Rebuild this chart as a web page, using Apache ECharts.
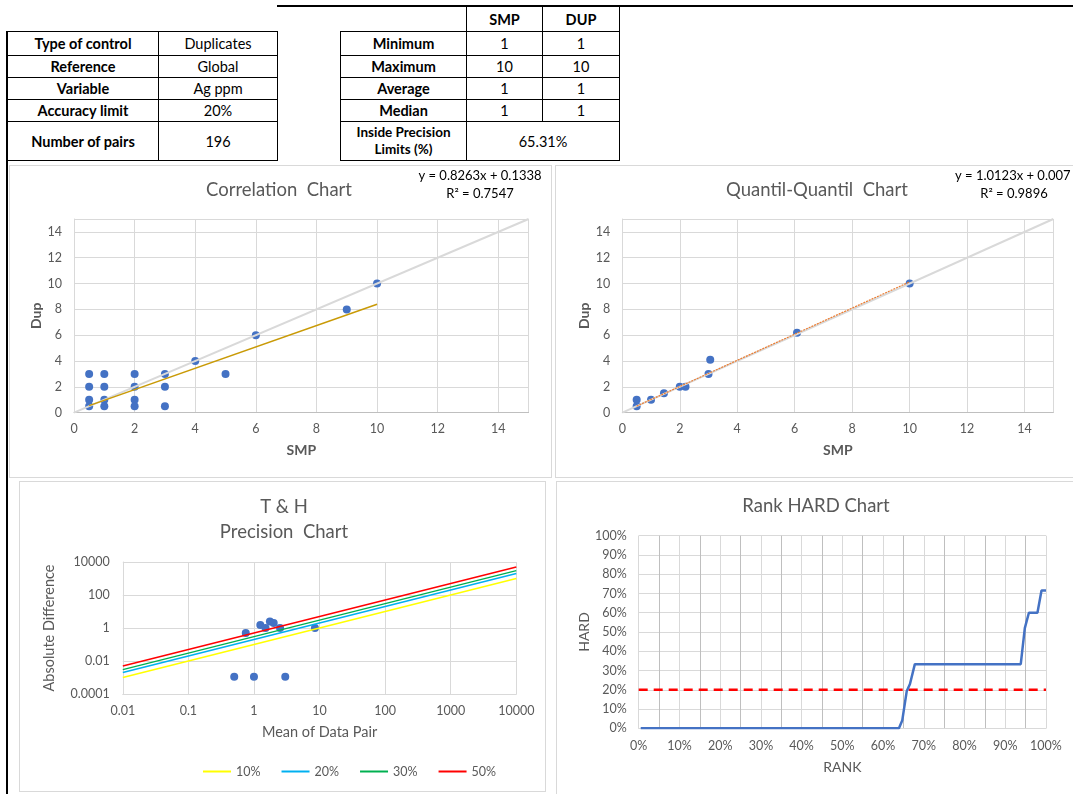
<!DOCTYPE html>
<html><head><meta charset="utf-8">
<script src="https://cdn.jsdelivr.net/npm/echarts@6/dist/echarts.min.js"></script>
<style>
html,body{margin:0;padding:0;background:#fff;width:1073px;height:794px;overflow:hidden;font-family:Lato,'Liberation Sans',sans-serif;}
.abs{position:absolute;}
table{position:absolute;border-collapse:collapse;table-layout:fixed;font-size:14.5px;color:#000;}
td,th{border:1px solid #000;text-align:center;padding:0;line-height:17px;}
th{font-weight:bold;}
td{font-weight:normal;}
td.nb{border-top:none;border-left:none;}
.panel{position:absolute;border:1px solid #d9d9d9;box-sizing:border-box;}
#chart{position:absolute;left:0;top:0;width:1073px;height:794px;}
</style></head>
<body>
<div class="abs" style="left:277px;top:5px;width:796px;height:2px;background:#000"></div>
<div class="abs" style="left:6px;top:31px;width:2px;height:763px;background:#000"></div>
<div class="panel" style="left:9px;top:165px;width:543px;height:313px"></div>
<div class="panel" style="left:555px;top:165px;width:530px;height:313px"></div>
<div class="panel" style="left:19px;top:481px;width:527px;height:311px"></div>
<div class="panel" style="left:556px;top:481px;width:530px;height:330px"></div>
<table id="t1" style="left:7px;top:31px"></table>
<table id="t2" style="left:340px;top:6px"></table>
<div id="chart"></div>
<script>
// ---------- table data ----------
const controlLabels = ['Type of control','Reference','Variable','Accuracy limit','Number of pairs'];
const controlValues = ['Duplicates','Global','Ag ppm','20%','196'];
const statHeaders = ['SMP','DUP'];
const statLabels = ['Minimum','Maximum','Average','Median'];
const smpStats = [1,10,1,1];
const dupStats = [1,10,1,1];
const insideLabel = 'Inside Precision<br>Limits (%)';
const insidePrecision = '65.31%';

// ---------- correlation chart data ----------
const corrSMP = [0.5,0.5,0.5,0.5,1,1,1,1,2,2,2,2,3,3,3,4,5,6,9,10];
const corrDUP = [3,2,1,0.5,3,2,1,0.5,3,2,1,0.5,3,2,0.5,4,3,6,8,10];
const corrTrendX = [0.5,10];
const corrTrendY = [0.55,8.40];
const identityX = [0,15];
const identityY = [0,15];

// ---------- Q-Q chart data ----------
const qqSMP = [0.5,0.5,1,1.45,2,2.2,3,3.06,6.08,10];
const qqDUP = [0.5,1,1,1.5,2,2,3,4.1,6.2,10];
const qqTrendX = [0.5,10];
const qqTrendY = [0.51,10.13];

// ---------- T&H chart data ----------
const thMean = [0.5,1,3,0.75,1.25,1.5,1.75,2,2.5,8.5];
const thDiff = [0.0011,0.0011,0.0011,0.5,1.5,1,2.5,2,1,1];
const limitNames = ['10%','20%','30%','50%'];
const limitX = [0.01,10000];
const limit10 = [0.001,1000];
const limit20 = [0.002,2000];
const limit30 = [0.003,3000];
const limit50 = [0.005,5000];

// ---------- Rank HARD data ----------
const rankPct = [0.5,63.9,64.7,65.8,66.6,67.8,93.8,94.8,95.8,97.9,98.9,100];
const hardPct = [0,0,4,19.2,23,33.3,33.3,52,60,60,71.5,71.5];
const hardLimitX = [0,100];
const hardLimitY = [20,20];

// ---------- build tables ----------
const rowH = [24,22,22,22,39];
let h1 = '<colgroup><col style="width:151px"><col style="width:119px"></colgroup>';
controlLabels.forEach((l,i)=>{ h1 += `<tr style="height:${rowH[i]}px"><th>${l}</th><td>${controlValues[i]}</td></tr>`; });
document.getElementById('t1').innerHTML = h1;
let h2 = '<colgroup><col style="width:126px"><col style="width:76px"><col style="width:77px"></colgroup>';
h2 += `<tr style="height:25px"><td class="nb"></td><th>${statHeaders[0]}</th><th>${statHeaders[1]}</th></tr>`;
statLabels.forEach((l,i)=>{ h2 += `<tr style="height:${rowH[i]}px"><th>${l}</th><td>${smpStats[i]}</td><td>${dupStats[i]}</td></tr>`; });
h2 += `<tr style="height:${rowH[4]}px"><th style="font-size:13.5px">${insideLabel}</th><td colspan="2">${insidePrecision}</td></tr>`;
document.getElementById('t2').innerHTML = h2;

// ---------- chart ----------
const zip = (a,b)=>a.map((v,i)=>[v,b[i]]);
const GRID = '#d9d9d9', TXT = '#595959';
const lbl = {color:TXT,fontSize:12.5,fontFamily:'Lato'};
function scatterAxis(gi, name, isX){
  return {type:'value',gridIndex:gi,min:0,max:15,interval:2,
    name:name,nameLocation:'middle',nameGap:isX?31:30,
    nameTextStyle:{color:TXT,fontWeight:'bold',fontSize:14,fontFamily:'Lato'},
    axisLine:{show:true,lineStyle:{color:isX?'#bfbfbf':GRID,width:1}},
    axisTick:{show:false},
    axisLabel:Object.assign({margin:isX?10:12,showMaxLabel:false},lbl),
    splitLine:{show:true,lineStyle:{color:GRID,width:1}}};
}
const logFmt = v => String(parseFloat(Number(v).toPrecision(4)));
const dot = {color:'#4472C4',opacity:1};
const option = {
  animation:false,
  textStyle:{fontFamily:'Lato'},
  grid:[
    {left:74,top:219,width:454.6,height:193.7,outerBoundsMode:'none'},
    {left:622.3,top:219,width:431,height:193.7,outerBoundsMode:'none'},
    {left:122.8,top:562,width:393.5,height:132,outerBoundsMode:'none'},
    {left:638.7,top:535.7,width:407.3,height:192.6,outerBoundsMode:'none'}
  ],
  xAxis:[
    scatterAxis(0,'SMP',true),
    scatterAxis(1,'SMP',true),
    {type:'log',logBase:10,gridIndex:2,min:0.01,max:10000,
      name:'Mean of Data Pair',nameLocation:'middle',nameGap:31,
      nameTextStyle:{color:TXT,fontSize:14.5,fontFamily:'Lato'},
      axisLine:{show:true,lineStyle:{color:GRID}},axisTick:{show:false},
      axisLabel:Object.assign({margin:10,formatter:logFmt},lbl),
      splitLine:{show:true,lineStyle:{color:GRID}}},
    {type:'value',gridIndex:3,min:0,max:100,interval:5,
      name:'RANK',nameLocation:'middle',nameGap:32,
      nameTextStyle:{color:TXT,fontSize:14,fontFamily:'Lato'},
      axisLine:{show:true,lineStyle:{color:GRID}},axisTick:{show:false},
      axisLabel:Object.assign({margin:11,formatter:v=>(Math.round(v)%10===0?Math.round(v)+'%':'')},lbl),
      splitLine:{show:true,lineStyle:{color:['#d9d9d9','#bfbfbf']}}}
  ],
  yAxis:[
    scatterAxis(0,'Dup',false),
    scatterAxis(1,'Dup',false),
    {type:'log',logBase:100,gridIndex:2,min:0.0001,max:10000,
      name:'Absolute Difference',nameLocation:'middle',nameGap:66,
      nameTextStyle:{color:TXT,fontSize:14.5,fontFamily:'Lato'},
      axisLine:{show:true,lineStyle:{color:GRID}},axisTick:{show:false},
      axisLabel:Object.assign({margin:13,formatter:logFmt},lbl),
      splitLine:{show:true,lineStyle:{color:GRID}}},
    {type:'value',gridIndex:3,min:0,max:100,interval:10,
      name:'HARD',nameLocation:'middle',nameGap:46,
      nameTextStyle:{color:TXT,fontSize:14,fontFamily:'Lato'},
      axisLine:{show:false},axisTick:{show:false},
      axisLabel:Object.assign({margin:12,formatter:v=>v+'%'},lbl),
      splitLine:{show:true,lineStyle:{color:GRID}}}
  ],
  legend:{data:limitNames,left:198,top:760,itemWidth:28,itemHeight:2,itemGap:21,icon:'rect',
    textStyle:{color:TXT,fontSize:12.5,fontFamily:'Lato'},selectedMode:false},
  graphic:[
    {type:'text',x:279,y:190,style:{text:'Correlation  Chart',font:'18.5px Lato',fill:TXT,textAlign:'center',textVerticalAlign:'middle'}},
    {type:'text',x:480,y:176,style:{text:'y = 0.8263x + 0.1338',font:'13px Lato',fill:'#000',textAlign:'center',textVerticalAlign:'middle'}},
    {type:'text',x:480,y:194,style:{text:'R² = 0.7547',font:'13px Lato',fill:'#000',textAlign:'center',textVerticalAlign:'middle'}},
    {type:'text',x:817,y:190,style:{text:'Quantil-Quantil  Chart',font:'18.5px Lato',fill:TXT,textAlign:'center',textVerticalAlign:'middle'}},
    {type:'text',x:955,y:176,style:{text:'y = 1.0123x + 0.007',font:'13px Lato',fill:'#000',textAlign:'left',textVerticalAlign:'middle'}},
    {type:'text',x:1014,y:194,style:{text:'R² = 0.9896',font:'13px Lato',fill:'#000',textAlign:'center',textVerticalAlign:'middle'}},
    {type:'text',x:284,y:507,style:{text:'T & H',font:'18.5px Lato',fill:TXT,textAlign:'center',textVerticalAlign:'middle'}},
    {type:'text',x:284,y:532,style:{text:'Precision  Chart',font:'18.5px Lato',fill:TXT,textAlign:'center',textVerticalAlign:'middle'}},
    {type:'text',x:816,y:506,style:{text:'Rank HARD Chart',font:'18.5px Lato',fill:TXT,textAlign:'center',textVerticalAlign:'middle'}}
  ],
  series:[
    {type:'line',xAxisIndex:0,yAxisIndex:0,data:zip(identityX,identityY),symbol:'none',silent:true,lineStyle:{color:GRID,width:2}},
    {type:'scatter',xAxisIndex:0,yAxisIndex:0,data:zip(corrSMP,corrDUP),symbolSize:8,itemStyle:dot},
    {type:'line',xAxisIndex:0,yAxisIndex:0,data:zip(corrTrendX,corrTrendY),symbol:'none',lineStyle:{color:'#C99A06',width:1.5}},
    {type:'line',xAxisIndex:1,yAxisIndex:1,data:zip(identityX,identityY),symbol:'none',silent:true,lineStyle:{color:GRID,width:2}},
    {type:'scatter',xAxisIndex:1,yAxisIndex:1,data:zip(qqSMP,qqDUP),symbolSize:8,itemStyle:dot},
    {type:'line',xAxisIndex:1,yAxisIndex:1,data:zip(qqTrendX,qqTrendY),symbol:'none',lineStyle:{color:'#ED7D31',width:1.2,type:[2,1]}},
    {name:'10%',type:'line',xAxisIndex:2,yAxisIndex:2,data:zip(limitX,limit10),symbol:'none',color:'#FFFF00',lineStyle:{color:'#FFFF00',width:1.5}},
    {name:'20%',type:'line',xAxisIndex:2,yAxisIndex:2,data:zip(limitX,limit20),symbol:'none',color:'#00B0F0',lineStyle:{color:'#00B0F0',width:1.5}},
    {name:'30%',type:'line',xAxisIndex:2,yAxisIndex:2,data:zip(limitX,limit30),symbol:'none',color:'#00B050',lineStyle:{color:'#00B050',width:1.5}},
    {name:'50%',type:'line',xAxisIndex:2,yAxisIndex:2,data:zip(limitX,limit50),symbol:'none',color:'#FF0000',lineStyle:{color:'#FF0000',width:1.5}},
    {name:'pairs',type:'scatter',xAxisIndex:2,yAxisIndex:2,data:zip(thMean,thDiff),symbolSize:8,itemStyle:dot},
    {type:'line',xAxisIndex:3,yAxisIndex:3,data:zip(hardLimitX,hardLimitY),symbol:'none',lineStyle:{color:'#FF0000',width:2.5,type:[9,6]}},
    {type:'line',xAxisIndex:3,yAxisIndex:3,data:zip(rankPct,hardPct),symbol:'none',lineStyle:{color:'#4472C4',width:2.5}}
  ]
};
const chart = echarts.init(document.getElementById('chart'),null,{renderer:'canvas'});
chart.setOption(option);
</script>
</body></html>
